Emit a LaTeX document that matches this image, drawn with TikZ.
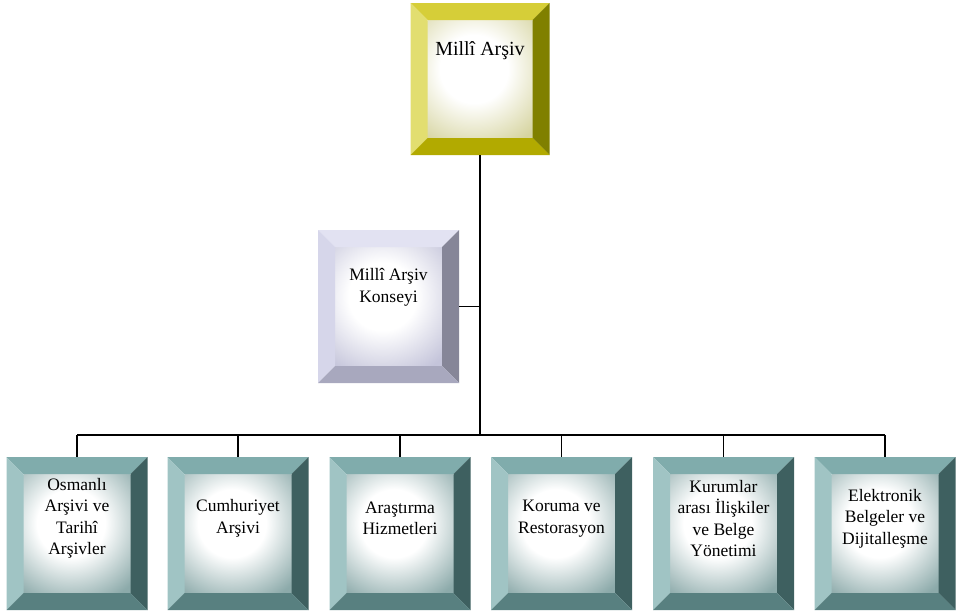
\documentclass[tikz,border=0pt]{standalone}
\usepackage{fontspec}
\setmainfont{Liberation Serif}
\usetikzlibrary{positioning}

\definecolor{ylwT}{RGB}{214,206,56}
\definecolor{ylwL}{RGB}{226,222,112}
\definecolor{ylwR}{RGB}{128,128,0}
\definecolor{ylwB}{RGB}{178,170,0}
\definecolor{ylwIn}{RGB}{214,212,160}
\definecolor{lavT}{RGB}{226,226,242}
\definecolor{lavL}{RGB}{214,214,234}
\definecolor{lavR}{RGB}{134,134,152}
\definecolor{lavB}{RGB}{168,168,190}
\definecolor{lavIn}{RGB}{196,196,218}
\definecolor{tealT}{RGB}{128,172,172}
\definecolor{tealL}{RGB}{160,196,196}
\definecolor{tealR}{RGB}{62,96,96}
\definecolor{tealB}{RGB}{88,128,128}
\definecolor{tealIn}{RGB}{140,170,170}
\colorlet{glowout}{tealIn}

% white middle, tint towards the corners
\pgfdeclareradialshading[glowout]{glow}{\pgfpoint{0bp}{0bp}}%
  {color(0bp)=(white); color(5bp)=(white); color(12.5bp)=(glowout); color(50bp)=(glowout)}

% bevelled frame: top, left, right, bottom, inner colour
\newcommand{\bevel}[5]{%
  \coordinate (nw) at (path picture bounding box.north west);
  \coordinate (ne) at (path picture bounding box.north east);
  \coordinate (sw) at (path picture bounding box.south west);
  \coordinate (se) at (path picture bounding box.south east);
  \begin{scope}
    \colorlet{glowout}{#5}
    \clip ([xshift=17pt,yshift=-17pt]nw) rectangle ([xshift=-17pt,yshift=17pt]se);
    \shade[shading=glow] ([xshift=-6pt,yshift=10pt]path picture bounding box.center) circle (170pt);
  \end{scope}
  \fill[#1] (nw) -- (ne) -- ([xshift=-17pt,yshift=-17pt]ne) -- ([xshift=17pt,yshift=-17pt]nw) -- cycle;
  \fill[#2] (nw) -- (sw) -- ([xshift=17pt,yshift=17pt]sw) -- ([xshift=17pt,yshift=-17pt]nw) -- cycle;
  \fill[#3] (ne) -- (se) -- ([xshift=-17pt,yshift=17pt]se) -- ([xshift=-17pt,yshift=-17pt]ne) -- cycle;
  \fill[#4] (sw) -- (se) -- ([xshift=-17pt,yshift=17pt]se) -- ([xshift=17pt,yshift=17pt]sw) -- cycle;
}

\tikzset{
  frame/.style={rectangle, inner sep=0pt, minimum width=141pt, minimum height=153pt},
  boxtext/.style={align=center, inner sep=0pt, font=\fontsize{17.5}{21.5}\selectfont},
  yellow frame/.style={frame, minimum width=139pt, minimum height=152pt,
    path picture={\bevel{ylwT}{ylwL}{ylwR}{ylwB}{ylwIn}}},
  lavender frame/.style={frame, path picture={\bevel{lavT}{lavL}{lavR}{lavB}{lavIn}}},
  teal frame/.style={frame, path picture={\bevel{tealT}{tealL}{tealR}{tealB}{tealIn}}},
  link/.style={draw, black, line width=1.6pt}
}

\begin{document}
\begin{tikzpicture}[x=1pt, y=-1pt]
  \useasboundingbox (0,0) rectangle (958,613);
  % head and council
  \node[yellow frame, label={[boxtext, font=\fontsize{20}{24}\selectfont, yshift=28pt]center:Millî Arşiv}] (arsiv) at (480,79) {};
  \node[lavender frame, label={[boxtext, yshift=19pt]center:Millî Arşiv\\Konseyi}] (konsey) at (388.5,306.5) {};
  \coordinate (bus) at (480,435);
  % departments
  \node[teal frame, label={[boxtext, yshift=15pt]center:Osmanlı\\Arşivi ve\\Tarihî\\Arşivler}] (d_1) at (77,533.5) {};
  \node[teal frame, label={[boxtext, yshift=15pt]center:Cumhuriyet\\Arşivi}] (d_2) at (238,533.5) {};
  \node[teal frame, label={[boxtext, yshift=15pt]center:Araştırma\\Hizmetleri}] (d_3) at (400,533.5) {};
  \node[teal frame, label={[boxtext, yshift=15pt]center:Koruma ve\\Restorasyon}] (d_4) at (561.5,533.5) {};
  \node[teal frame, label={[boxtext, yshift=15pt]center:Kurumlar\\arası İlişkiler\\ve Belge\\Yönetimi}] (d_5) at (723.5,533.5) {};
  \node[teal frame, label={[boxtext, yshift=15pt]center:Elektronik\\Belgeler ve\\Dijitalleşme}] (d_6) at (885,533.5) {};
  % connectors
  \path[link] (arsiv.south) -- (bus);
  \path[link] (konsey.east) -- (konsey.east -| arsiv);
  \path[link] (bus -| d_1) -- (bus -| d_6);
  \foreach \d in {d_1,d_2,d_3,d_4,d_5,d_6}
    \path[link] (\d.north) -- (bus -| \d);
\end{tikzpicture}
\end{document}
